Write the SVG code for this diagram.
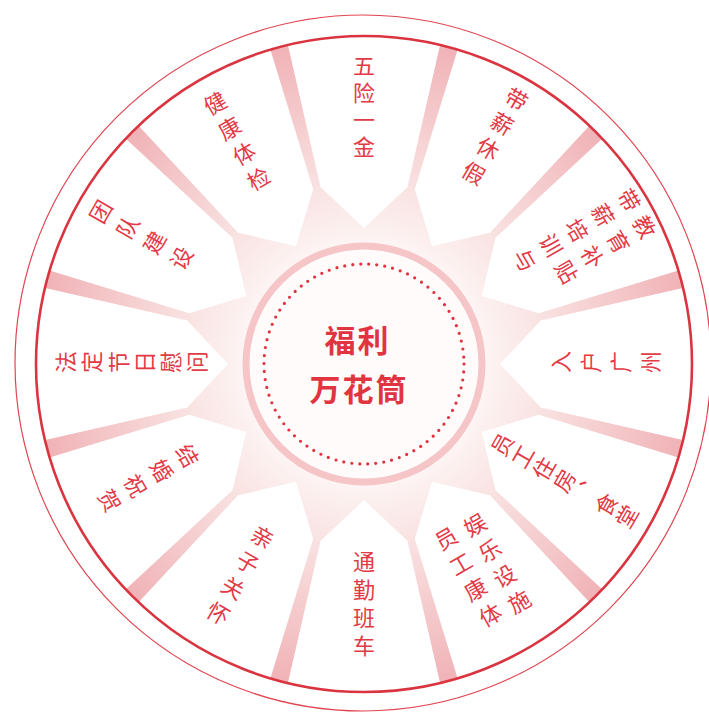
<svg xmlns="http://www.w3.org/2000/svg" width="709" height="712" viewBox="0 0 709 712">
<style>
.lb{font-family:"Noto Sans CJK SC","Noto Sans",sans-serif;font-size:22px;fill:#e23a46;text-anchor:middle;writing-mode:vertical-rl}
.ct{font-family:"Noto Sans CJK SC","Noto Sans",sans-serif;font-size:31px;font-weight:bold;fill:#e03541;text-anchor:middle;dominant-baseline:central;letter-spacing:2px}
.sec{fill:#ffffff}
</style>
<defs>
<radialGradient id="bg" gradientUnits="userSpaceOnUse" cx="364" cy="364" r="330">
<stop offset="0" stop-color="#ffffff"/>
<stop offset="0.36" stop-color="#fdf5f4"/>
<stop offset="0.55" stop-color="#f9e2e2"/>
<stop offset="1" stop-color="#f0b2b6"/>
</radialGradient>
<path id="sec" d="M136 0 L176.7 -43.4 L330.7 -78.8 L330.7 78.8 L176.7 43.4 Z"/>
</defs>
<rect width="709" height="712" fill="#ffffff"/>
<circle cx="363" cy="363" r="348" fill="none" stroke="#e04551" stroke-width="1.2"/>
<circle cx="364" cy="364" r="328" fill="url(#bg)"/>
<g id="connectors"></g>
<g id="n1"><use href="#sec" class="sec" transform="translate(364 364) rotate(-90)"/>
<g transform="translate(364 108.5)"><text class="lb" x="0" y="0" style="letter-spacing:5px">五险一金</text></g></g>
<g id="n2"><use href="#sec" class="sec" transform="translate(364 364) rotate(-60)"/>
<g transform="translate(493.5 139) rotate(30)"><text class="lb" x="0" y="0" style="letter-spacing:6.5px">带薪休假</text></g></g>
<g id="n3"><use href="#sec" class="sec" transform="translate(364 364) rotate(-30)"/>
<g transform="translate(573.5 232) rotate(60)"><text class="lb" x="0" y="0" style="letter-spacing:8px">带薪培训与</text>
<text class="lb" x="31" y="-15" style="letter-spacing:8px">教育补贴</text></g></g>
<g id="n4"><use href="#sec" class="sec" transform="translate(364 364)"/>
<g transform="translate(610 362) rotate(-90)"><text class="lb" x="0" y="0" style="letter-spacing:8px">入户广州</text></g></g>
<g id="n5"><use href="#sec" class="sec" transform="translate(364 364) rotate(30)"/>
<g transform="translate(565.5 481) rotate(-60)"><text class="lb" x="0" y="0" style="letter-spacing:2px">员工住房、食堂</text></g></g>
<g id="n6"><use href="#sec" class="sec" transform="translate(364 364) rotate(60)"/>
<g transform="translate(470 580) rotate(-30)"><text class="lb" x="0" y="0" style="letter-spacing:7.5px">员工康体</text>
<text class="lb" x="32" y="3" style="letter-spacing:7.5px">娱乐设施</text></g></g>
<g id="n7"><use href="#sec" class="sec" transform="translate(364 364) rotate(90)"/>
<g transform="translate(364 607)"><text class="lb" x="0" y="0" style="letter-spacing:6px">通勤班车</text></g></g>
<g id="n8"><use href="#sec" class="sec" transform="translate(364 364) rotate(120)"/>
<g transform="translate(238.5 578.5) rotate(30)"><text class="lb" x="0" y="0" style="letter-spacing:7.4px">亲子关怀</text></g></g>
<g id="n9"><use href="#sec" class="sec" transform="translate(364 364) rotate(150)"/>
<g transform="translate(145 480) rotate(60)"><text class="lb" x="0" y="0" style="letter-spacing:8px">结婚祝贺</text></g></g>
<g id="n10"><use href="#sec" class="sec" transform="translate(364 364) rotate(180)"/>
<g transform="translate(133.5 362) rotate(-90)"><text class="lb" x="0" y="0" style="letter-spacing:4.2px">法定节日慰问</text></g></g>
<g id="n11"><use href="#sec" class="sec" transform="translate(364 364) rotate(210)"/>
<g transform="translate(145 237) rotate(-60)"><text class="lb" x="0" y="0" style="letter-spacing:9px">团队建设</text></g></g>
<g id="n12"><use href="#sec" class="sec" transform="translate(364 364) rotate(240)"/>
<g transform="translate(238.5 144) rotate(-30)"><text class="lb" x="0" y="0" style="letter-spacing:7px">健康体检</text></g></g>
<circle cx="364" cy="364" r="328" fill="none" stroke="#d9343f" stroke-width="2.6"/>
<g id="center">
<circle cx="364" cy="364" r="118" fill="#fffbfb" stroke="#f5c5c8" stroke-width="7"/>
<circle cx="364" cy="364" r="100" fill="none" stroke="#e0323f" stroke-width="3.2" stroke-linecap="round" stroke-dasharray="0 8.055"/>
<text class="ct" x="357.5" y="338.5">福利</text>
<text class="ct" x="359" y="387.5">万花筒</text>
</g>
</svg>
